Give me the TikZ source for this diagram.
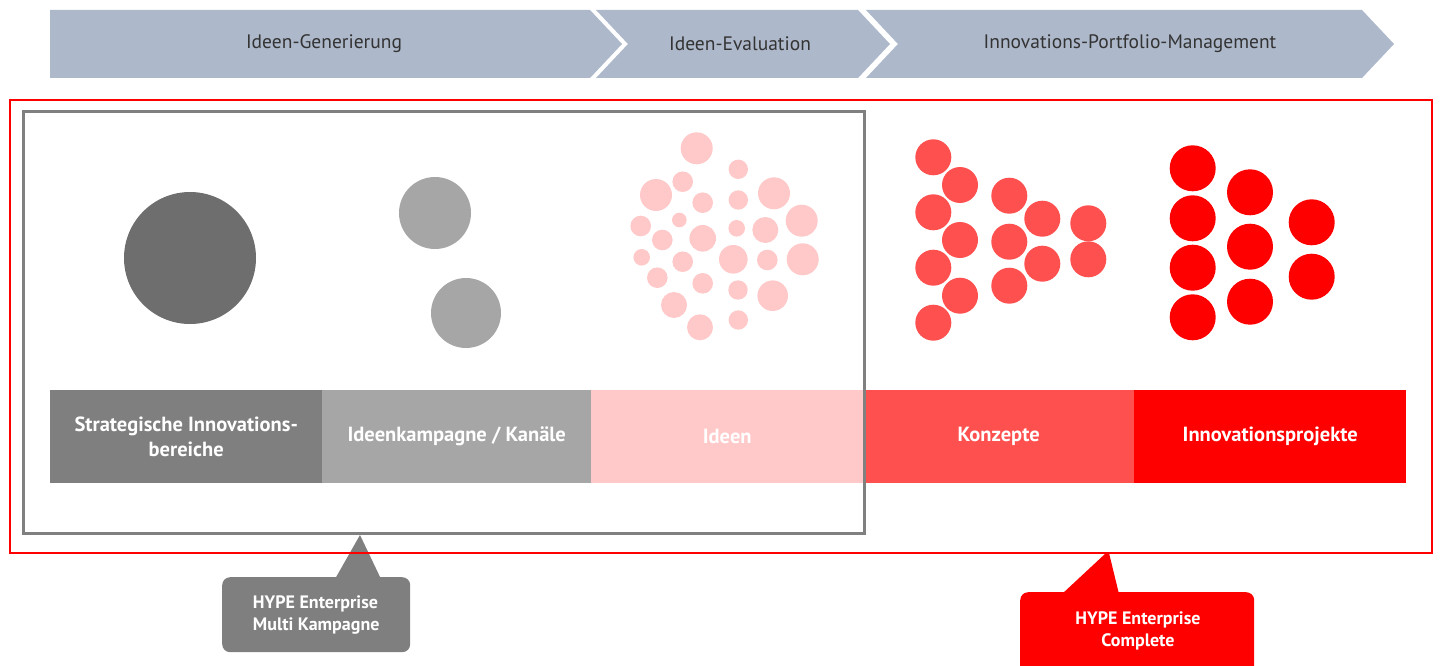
\documentclass[tikz,border=0pt]{standalone}
\usepackage{fontspec}
\newfontfamily\cond{PT Sans}
\definecolor{chev}{HTML}{ADB8CA}
\definecolor{chevtxt}{HTML}{333333}
\definecolor{dgray}{HTML}{7F7F7F}
\definecolor{cdgray}{HTML}{6E6E6E}
\definecolor{mgray}{HTML}{A6A6A6}
\definecolor{lpink}{HTML}{FFC9C9}
\definecolor{mred}{HTML}{FF5050}
\definecolor{fred}{HTML}{FF0000}
\definecolor{framegray}{HTML}{808080}
\begin{document}
\begin{tikzpicture}[x=1pt,y=-1pt,
  chevshape/.style={fill=chev,draw=none},
  chevtext/.style={text=chevtxt,font=\cond\fontsize{19.5}{22}\selectfont,inner sep=0pt},
  barseg/.style={draw=none,minimum height=93pt,inner sep=0pt,anchor=north west,text=white,align=center,font=\cond\bfseries\fontsize{20.5}{25}\selectfont},
  callbox/.style={draw=none,rounded corners=8pt,inner sep=0pt,anchor=north west},
  calltext/.style={text=white,align=left,inner sep=0pt,font=\cond\bfseries\fontsize{18}{22}\selectfont},
  pinkdot/.style={fill=lpink},
  reddot/.style={fill=mred},
  fulldot/.style={fill=fred}]
\useasboundingbox (0,0) rectangle (1443,666);
% chevrons
\fill[chevshape] (50,10) -- (590,10) -- (622,44) -- (590,78) -- (50,78) -- cycle;
\fill[chevshape] (596,10) -- (858,10) -- (890,44) -- (858,78) -- (596,78) -- (628,44) -- cycle;
\fill[chevshape] (866,10) -- (1362,10) -- (1394,44) -- (1362,78) -- (866,78) -- (898,44) -- cycle;
\node[chevtext] (t1) at (324,44) {Ideen-Generierung};
\node[chevtext] (t2) at (740,44) {Ideen-Evaluation};
\node[chevtext] (t3) at (1130,44) {Innovations-Portfolio-Management};
% circles
\fill[cdgray] (190,258) circle (66);
\fill[mgray] (435,213) circle (36);
\fill[mgray] (466,313) circle (35);
\foreach \x/\y/\r in {696.7/148.3/16, 738.3/169.3/9.7, 682.7/181.7/10.3, 656/195/16, 774/193.3/16,
  702.7/202.7/10.3, 738.3/200/9.7, 801.7/220.7/16, 640.7/226/10.3, 679.3/220/7.3, 736.7/228.3/8.3,
  765.3/230/13, 662.3/240/10.3, 702.7/238.3/13.3, 641.7/257.3/8.3, 682.7/261.7/10.3, 733.3/259.3/14.3,
  767.3/260/10.3, 802.7/259.3/16, 657.3/277.7/10.3, 702.7/283.3/10.3, 738/290/9.7, 772.7/295.7/15.3,
  674/305/13, 738.3/320/9.7, 700/327.3/13}
  \fill[pinkdot] (\x,\y) circle (\r);
\foreach \x/\y in {933.3/157.3, 933.3/212.3, 933.3/267.7, 933.3/322.7, 960/185, 960/240, 960/295.7,
  1009.3/195.7, 1009.3/241.7, 1009.3/285.7, 1042.3/218.7, 1042.3/263.7, 1088.3/223.3, 1088.3/259.3}
  \fill[reddot] (\x,\y) circle (18);
\foreach \x/\y in {1192.7/168.3, 1192.7/218.3, 1192.7/267.7, 1192.7/317.3, 1250/192.3, 1250/246.7,
  1250/301.7, 1311.7/222.3, 1311.7/276.7}
  \fill[fulldot] (\x,\y) circle (23);
% bars
\node[barseg,fill=dgray,minimum width=272pt] (b1) at (50,390) {Strategische Innovations-\\bereiche};
\node[barseg,fill=mgray,minimum width=269pt] (b2) at (322,390) {Ideenkampagne / Kanäle};
\node[barseg,fill=lpink,minimum width=272pt] (b3) at (591,390) {Ideen};
\node[barseg,fill=mred,minimum width=271pt] (b4) at (863,390) {Konzepte};
\node[barseg,fill=fred,minimum width=272pt] (b5) at (1134,390) {Innovationsprojekte};
% callouts
\node[callbox,fill=dgray,minimum width=188pt,minimum height=75pt] (c1) at (222,577) {};
\coordinate (p1) at (360,535);
\fill[dgray] (335,579) -- (p1) -- (381,579) -- cycle;
\node[calltext] (c1t) at (c1.center) {HYPE Enterprise\\Multi Kampagne};
\node[callbox,fill=fred,minimum width=234pt,minimum height=90pt] (c2) at (1020,592) {};
\coordinate (p2) at (1106,553);
\fill[fred] (1062,594) -- (p2) -- (1109,553) -- (1119,594) -- cycle;
\node[calltext,align=center] (c2t) at (1138,631) {HYPE Enterprise\\Complete};
% frames
\draw[framegray,line width=3pt] (23,112) rectangle (864,533);
\draw[fred,line width=2.5pt] (10,100) rectangle (1432,553);
\end{tikzpicture}
\end{document}
